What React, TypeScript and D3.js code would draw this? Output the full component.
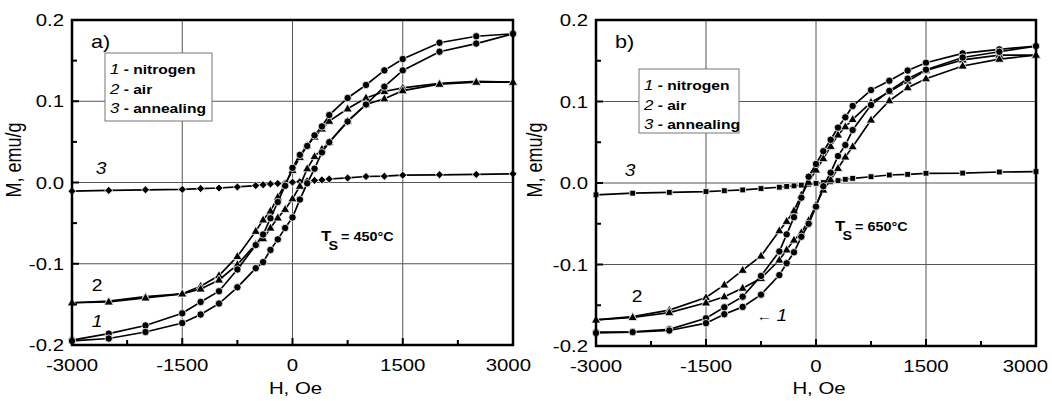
import React from 'react';
import * as d3 from 'd3';

// Field values (Oe) at which every loop branch was measured
const H = [-3000, -2500, -2000, -1500, -1250, -1000, -750, -500, -400, -300, -200, -100, 0, 100, 200, 300, 400, 500, 750, 1000, 1250, 1500, 2000, 2500, 3000];

// ---- Panel a) Ts = 450°C ----
const nitrogenA_desc = [-0.194, -0.186, -0.176, -0.161, -0.147, -0.1338, -0.107, -0.077, -0.064, -0.044, -0.024, -0.004, 0.018, 0.034, 0.045, 0.058, 0.069, 0.083, 0.104, 0.120, 0.138, 0.152, 0.172, 0.180, 0.183];
const nitrogenA_asc = [-0.195, -0.192, -0.184, -0.173, -0.1625, -0.149, -0.129, -0.1055, -0.098, -0.083, -0.070, -0.056, -0.043, -0.021, -0.001, 0.017, 0.037, 0.0496, 0.075, 0.096, 0.118, 0.138, 0.161, 0.171, 0.183];
const airA_desc = [-0.148, -0.146, -0.1405, -0.137, -0.1276, -0.1145, -0.091, -0.060, -0.046, -0.035, -0.018, -0.002, 0.015, 0.031, 0.0455, 0.056, 0.066, 0.0755, 0.0907, 0.104, 0.112, 0.1165, 0.122, 0.1245, 0.1235];
const airA_asc = [-0.148, -0.147, -0.142, -0.137, -0.131, -0.120, -0.101, -0.076, -0.069, -0.056, -0.0435, -0.033, -0.020, -0.0045, 0.017, 0.032, 0.041, 0.0496, 0.0755, 0.096, 0.103, 0.113, 0.121, 0.1235, 0.1235];
const annealA = [-0.0107, -0.0097, -0.009, -0.0085, -0.0075, -0.0068, -0.0055, -0.0038, -0.0028, -0.0018, -0.0012, -0.0004, 0.0004, 0.0010, 0.0018, 0.0026, 0.0032, 0.0043, 0.0056, 0.0074, 0.0078, 0.009, 0.0095, 0.0100, 0.0107];

// ---- Panel b) Ts = 650°C ----
const nitrogenB_desc = [-0.183, -0.1825, -0.1795, -0.166, -0.1525, -0.1395, -0.114, -0.084, -0.063, -0.042, -0.018, 0.0077, 0.0233, 0.039, 0.053, 0.068, 0.0806, 0.0945, 0.114, 0.1255, 0.138, 0.1476, 0.159, 0.164, 0.168];
const nitrogenB_asc = [-0.184, -0.183, -0.181, -0.172, -0.161, -0.152, -0.137, -0.113, -0.0985, -0.085, -0.066, -0.050, -0.029, -0.004, 0.0127, 0.033, 0.0466, 0.065, 0.0957, 0.113, 0.128, 0.139, 0.154, 0.161, 0.168];
const airB_desc = [-0.168, -0.164, -0.156, -0.1405, -0.125, -0.107, -0.0896, -0.0585, -0.047, -0.034, -0.0147, 0.001, 0.016, 0.030, 0.045, 0.059, 0.069, 0.078, 0.099, 0.112, 0.125, 0.138, 0.151, 0.157, 0.157];
const airB_asc = [-0.168, -0.165, -0.159, -0.147, -0.1395, -0.129, -0.117, -0.0945, -0.082, -0.070, -0.061, -0.046, -0.027, -0.0086, 0.004, 0.018, 0.032, 0.0446, 0.0773, 0.101, 0.117, 0.128, 0.1436, 0.152, 0.157];
const annealB = [-0.0145, -0.0125, -0.0115, -0.0105, -0.0095, -0.0085, -0.0068, -0.0052, -0.0042, -0.0035, -0.0026, -0.0014, -0.0004, 0.0005, 0.0015, 0.0029, 0.0045, 0.0057, 0.0077, 0.0098, 0.0106, 0.0119, 0.0122, 0.0135, 0.014];

// Axes
const X_DOMAIN = [-3000, 3000];
const Y_DOMAIN = [-0.2, 0.2];
const X_MAJOR = [-3000, -1500, 0, 1500, 3000];
const X_MINOR = [-2250, -750, 750, 2250];
const Y_MAJOR = [-0.2, -0.1, 0, 0.1, 0.2];
const Y_MINOR = [-0.15, -0.05, 0.05, 0.15];
const X_TICK_LABELS = ['-3000', '-1500', '0', '1500', '3000'];
const Y_TICK_LABELS = ['-0.2', '-0.1', '0.0', '0.1', '0.2'];
const LEGEND = [['1', 'nitrogen'], ['2', 'air'], ['3', 'annealing']];

const FONT = "'Liberation Sans', Arial, sans-serif";
const SX = 1.2; // horizontal stretch of the original figure

type Marker = 'circle' | 'triangle' | 'diamond' | 'square';

function markerPath(m: Marker): string {
  if (m === 'circle') return d3.symbol(d3.symbolCircle, Math.PI * 3.7 * 3.7)()!;
  if (m === 'triangle') return 'M0,-5L4.6,3.1L-4.6,3.1Z';
  if (m === 'diamond') return 'M0,-4L4.1,0L0,4L-4.1,0Z';
  return 'M-2.9,-2.9H2.9V2.9H-2.9Z';
}

function T(props: { x: number; y: number; size: number; anchor?: string; weight?: string; italic?: boolean; children: any; rot?: boolean }) {
  const { x, y, size, anchor = 'start', weight = 'normal', italic = false, children, rot } = props;
  const tr = rot ? `translate(${x},${y}) rotate(-90) scale(1,${SX})` : `translate(${x},${y}) scale(${SX},1)`;
  return (
    <text transform={tr} fontFamily={FONT} fontSize={size} fontWeight={weight} fontStyle={italic ? 'italic' : 'normal'} textAnchor={anchor} fill="#000">
      {children}
    </text>
  );
}

interface Series { values: number[]; marker: Marker }

interface PanelProps {
  left: number; right: number; top: number; bottom: number;
  series: Series[];
  tag: string;
  legend: { x: number; y: number; w: number; h: number };
  temp: string;
  tempPos: { x: number; y: number };
  ylabX: number;
  lastLabelEnd: number;
  curveLabels: { text: string; x: number; y: number; italic: boolean; arrow?: boolean }[];
}

function Panel(p: PanelProps) {
  const x = d3.scaleLinear().domain(X_DOMAIN).range([p.left, p.right]);
  const y = d3.scaleLinear().domain(Y_DOMAIN).range([p.bottom, p.top]);
  const line = d3.line<number>().x((_, i) => x(H[i])).y((v) => y(v));
  return (
    <g>
      {/* grid */}
      {X_MAJOR.slice(1, -1).map((v) => (
        <line key={'gx' + v} x1={x(v)} x2={x(v)} y1={p.top} y2={p.bottom} stroke="#555" strokeWidth={1} />
      ))}
      {Y_MAJOR.slice(1, -1).map((v) => (
        <line key={'gy' + v} x1={p.left} x2={p.right} y1={y(v)} y2={y(v)} stroke="#555" strokeWidth={1} />
      ))}
      {/* legend box */}
      <rect x={p.legend.x} y={p.legend.y} width={p.legend.w} height={p.legend.h} fill="#fff" stroke="#777" strokeWidth={1} />
      {LEGEND.map(([n, name], i) => (
        <T key={n} x={p.legend.x + 5} y={p.legend.y + 21 + i * 19.5} size={13} weight="bold">
          <tspan fontStyle="italic" fontWeight="normal" fontSize={14}>{n}</tspan>
          <tspan> - {name}</tspan>
        </T>
      ))}
      {/* curves */}
      {p.series.map((s, si) => (
        <g key={si}>
          <path d={line(s.values)!} fill="none" stroke="#000" strokeWidth={1.7} />
          {s.values.map((v, i) => (
            <path key={i} d={markerPath(s.marker)} transform={`translate(${x(H[i])},${y(v)})`} fill="#000" stroke="#fff" strokeWidth={0.8} />
          ))}
        </g>
      ))}
      {/* frame */}
      <rect x={p.left} y={p.top} width={p.right - p.left} height={p.bottom - p.top} fill="none" stroke="#000" strokeWidth={2.5} />
      {/* ticks */}
      {X_MAJOR.map((v) => (
        <line key={'tx' + v} x1={x(v)} x2={x(v)} y1={p.bottom} y2={p.bottom - 7} stroke="#000" strokeWidth={2} />
      ))}
      {X_MINOR.map((v) => (
        <line key={'mx' + v} x1={x(v)} x2={x(v)} y1={p.bottom} y2={p.bottom - 5} stroke="#000" strokeWidth={2} />
      ))}
      {Y_MAJOR.map((v) => (
        <line key={'ty' + v} x1={p.left} x2={p.left + 7} y1={y(v)} y2={y(v)} stroke="#000" strokeWidth={2} />
      ))}
      {Y_MINOR.map((v) => (
        <line key={'my' + v} x1={p.left} x2={p.left + 5} y1={y(v)} y2={y(v)} stroke="#000" strokeWidth={2} />
      ))}
      {/* tick labels */}
      {X_MAJOR.map((v, i) => (
        i === X_MAJOR.length - 1
          ? <T key={'lx' + v} x={p.lastLabelEnd} y={p.bottom + 26} size={17} anchor="end">{X_TICK_LABELS[i]}</T>
          : <T key={'lx' + v} x={x(v)} y={p.bottom + 26} size={17} anchor="middle">{X_TICK_LABELS[i]}</T>
      ))}
      {Y_MAJOR.map((v, i) => (
        <T key={'ly' + v} x={p.left - 8} y={y(v) + 6} size={17} anchor="end">{Y_TICK_LABELS[i]}</T>
      ))}
      {/* axis titles */}
      <T x={(p.left + p.right) / 2 + 3} y={394} size={17} anchor="middle">H, Oe</T>
      <T x={p.ylabX} y={160} size={18} anchor="middle" rot>M, emu/g</T>
      {/* panel tag */}
      <T x={p.left + 19} y={48} size={18}>{p.tag}</T>
      {/* temperature */}
      <T x={p.tempPos.x} y={p.tempPos.y} size={14} weight="bold">T</T>
      <T x={p.tempPos.x + 7.5} y={p.tempPos.y + 9} size={12} weight="bold">S</T>
      <T x={p.tempPos.x + 20} y={p.tempPos.y} size={12} weight="bold">{'= ' + p.temp}</T>
      {/* curve labels */}
      {p.curveLabels.map((c, i) => (
        <T key={i} x={c.x} y={c.y} size={16} italic={c.italic} anchor="middle">
          {c.arrow ? <tspan fontStyle="normal" fontSize={13}>{'\u2190 '}</tspan> : null}
          <tspan fontStyle={c.italic ? 'italic' : 'normal'}>{c.text}</tspan>
        </T>
      ))}
    </g>
  );
}

export default function App() {
  const seriesA: Series[] = [
    { values: annealA, marker: 'diamond' },
    { values: airA_desc, marker: 'triangle' },
    { values: airA_asc, marker: 'triangle' },
    { values: nitrogenA_desc, marker: 'circle' },
    { values: nitrogenA_asc, marker: 'circle' },
  ];
  const seriesB: Series[] = [
    { values: annealB, marker: 'square' },
    { values: airB_desc, marker: 'triangle' },
    { values: airB_asc, marker: 'triangle' },
    { values: nitrogenB_desc, marker: 'circle' },
    { values: nitrogenB_asc, marker: 'circle' },
  ];
  return (
    <svg width={1052} height={401} style={{ position: 'absolute', left: 0, top: 0, background: '#fff' }}>
      <rect x={0} y={0} width={1052} height={401} fill="#fff" />
      <Panel
        left={72} right={513} top={20} bottom={345}
        series={seriesA}
        tag="a)"
        legend={{ x: 105, y: 53, w: 107, h: 68 }}
        temp="450°C"
        tempPos={{ x: 321, y: 241 }}
        ylabX={21}
        lastLabelEnd={531}
        curveLabels={[
          { text: '3', x: 101, y: 174, italic: true },
          { text: '2', x: 97, y: 291, italic: false },
          { text: '1', x: 97, y: 327, italic: true },
        ]}
      />
      <Panel
        left={596} right={1036} top={20} bottom={346}
        series={seriesB}
        tag="b)"
        legend={{ x: 639, y: 69, w: 100, h: 64 }}
        temp="650°C"
        tempPos={{ x: 835, y: 231 }}
        ylabX={542}
        lastLabelEnd={1048}
        curveLabels={[
          { text: '3', x: 630, y: 176, italic: true },
          { text: '2', x: 637, y: 302, italic: false },
          { text: '1', x: 772, y: 321, italic: true, arrow: true },
        ]}
      />
    </svg>
  );
}
